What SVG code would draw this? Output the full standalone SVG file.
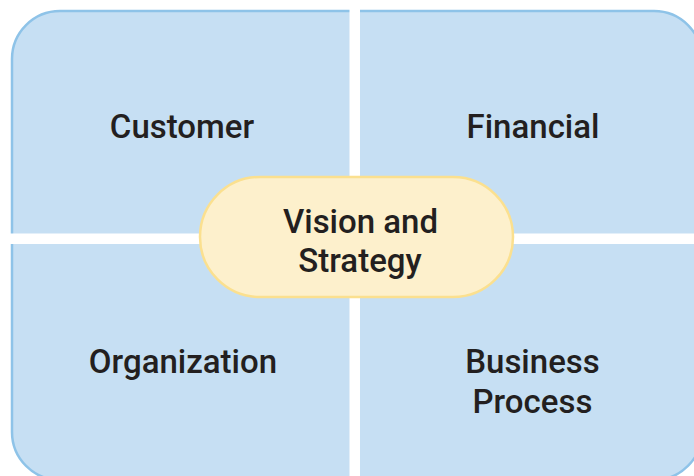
<svg xmlns="http://www.w3.org/2000/svg" width="694" height="476" viewBox="0 0 694 476">
<style>
.lbl{font-family:Roboto,"Noto Sans","Liberation Sans",sans-serif;font-weight:500;font-size:33px;fill:#231f20;text-anchor:middle}
.gap{fill:#ffffff}
</style>
<rect width="694" height="476" fill="#ffffff"/>
<g id="board">
<rect x="12" y="11" width="690" height="469" rx="48" ry="48" fill="#c6dff3" stroke="#8ec3e8" stroke-width="2.5"/>
</g>
<g id="dividers">
<rect class="gap" x="349.5" y="0" width="10.5" height="476"/>
<rect class="gap" x="0" y="233.5" width="694" height="10.5"/>
</g>
<g id="customer"><text class="lbl" x="182" y="138">Customer</text></g>
<g id="financial"><text class="lbl" x="533" y="138">Financial</text></g>
<g id="organization"><text class="lbl" x="183" y="373">Organization</text></g>
<g id="business-process"><text class="lbl" x="532.5" y="373">Business</text><text class="lbl" x="532.5" y="412.5">Process</text></g>
<g id="vision">
<rect x="200" y="177" width="313" height="120" rx="60" ry="60" fill="#fdf0cc" stroke="#fbe08f" stroke-width="2.5"/>
<text class="lbl" x="360.5" y="232.5">Vision and</text>
<text class="lbl" x="360" y="271.5">Strategy</text>
</g>
</svg>
